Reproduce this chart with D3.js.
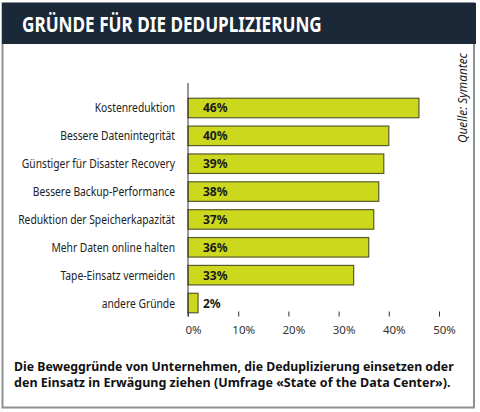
<!DOCTYPE html>
<html><head><meta charset="utf-8">
<script src="https://cdn.jsdelivr.net/npm/d3@7"></script>
<style>
html,body{margin:0;padding:0;background:#fff;}
svg{display:block;}
</style></head>
<body>
<svg id="c" width="480" height="412"></svg>
<script>
const titleText = "GRÜNDE FÜR DIE DEDUPLIZIERUNG";
const categories = ["Kostenreduktion","Bessere Datenintegrität","Günstiger für Disaster Recovery","Bessere Backup-Performance","Reduktion der Speicherkapazität","Mehr Daten online halten","Tape-Einsatz vermeiden","andere Gründe"];
const values = [46,40,39,38,37,36,33,2];
const tickValues = [0,10,20,30,40,50];
const sourceText = "Quelle: Symantec";
const captionLines = ["Die Beweggründe von Unternehmen, die Deduplizierung einsetzen oder","den Einsatz in Erwägung ziehen (Umfrage «State of the Data Center»)."];

const svg = d3.select("#c");
const font = "'Noto Sans', 'Open Sans', sans-serif";

// horizontal scale of a text node placed at (px,py) so its width becomes w
function squeeze(node, px, py, k){
  d3.select(node).attr("x",0).attr("y",0).attr("transform",`translate(${px},${py}) scale(${k},1)`);
}

// frame
svg.append("rect").attr("x",2.5).attr("y",3).attr("width",471.5).attr("height",404.5)
  .attr("fill","#fff").attr("stroke","#8c9196").attr("stroke-width",2);
svg.append("rect").attr("x",2).attr("y",3).attr("width",474).attr("height",41).attr("fill","#1b2838");
const t = svg.append("text").attr("fill","#fff")
  .attr("font-family",font).attr("font-weight","bold").attr("font-size",21).text(titleText);
squeeze(t.node(), 22, 31.5, 300/t.node().getComputedTextLength());

const x = d3.scaleLinear().domain([0,50]).range([188,439]);
const y = d3.scaleBand().domain(categories).range([94.05,316.95]).paddingInner(0.3).paddingOuter(0.15);

// bars
svg.append("g").selectAll("rect").data(values).join("rect")
  .attr("x", x(0)).attr("y",(d,i)=>y(categories[i]))
  .attr("width",d=>x(d)-x(0)).attr("height",y.bandwidth())
  .attr("fill","#cbd81c").attr("stroke","#5a5a2c").attr("stroke-width",1.2);

// value labels
svg.append("g").selectAll("text").data(values).join("text")
  .attr("x",203).attr("y",(d,i)=>y(categories[i])+y.bandwidth()/2+4.5)
  .attr("font-family",font).attr("font-weight","bold").attr("font-size",12).attr("fill","#1a1a1a")
  .text(d=>d+"%");

// category labels
const labs = svg.append("g").selectAll("text").data(categories).join("text")
  .attr("text-anchor","end")
  .attr("font-family",font).attr("font-size",12.5).attr("fill","#222")
  .text(d=>d);
let maxW = 0;
labs.each(function(){ maxW = Math.max(maxW, this.getComputedTextLength()); });
const k = 157/maxW;
labs.each(function(d){ squeeze(this, 175, y(d)+y.bandwidth()/2+4.5, k); });

// y axis line
svg.append("line").attr("x1",x(0)).attr("x2",x(0)).attr("y1",83).attr("y2",316.5)
  .attr("stroke","#333").attr("stroke-width",1);

// x axis
const ax = svg.append("g").attr("transform","translate(0,316.5)")
  .call(d3.axisTop(x).tickValues(tickValues).tickSize(5).tickFormat(""));
ax.select(".domain").remove();
ax.selectAll(".tick line").attr("stroke","#333");
const ax2 = svg.append("g").attr("transform","translate(5,316.5)")
  .call(d3.axisBottom(x).tickValues(tickValues).tickSize(0).tickPadding(9).tickFormat(d=>d+"%"));
ax2.select(".domain").remove();
ax2.selectAll("text").attr("font-family",font).attr("font-size",11.5).attr("fill","#333");

// source
const src = svg.append("text")
  .attr("font-family",font).attr("font-style","italic").attr("font-size",12.5).attr("fill","#222")
  .text(sourceText);
{ const kk = 90/src.node().getComputedTextLength();
  src.attr("transform",`translate(467,143) rotate(-90) scale(${kk},1)`); }

// caption
const cap = svg.append("g").selectAll("text").data(captionLines).join("text")
  .attr("font-family",font).attr("font-weight","bold").attr("font-size",12.5).attr("fill","#111")
  .text(d=>d);
cap.each(function(d,i){ squeeze(this, 14, 371+i*15.5, (i===0?440:437)/this.getComputedTextLength()); });
</script>
</body></html>
